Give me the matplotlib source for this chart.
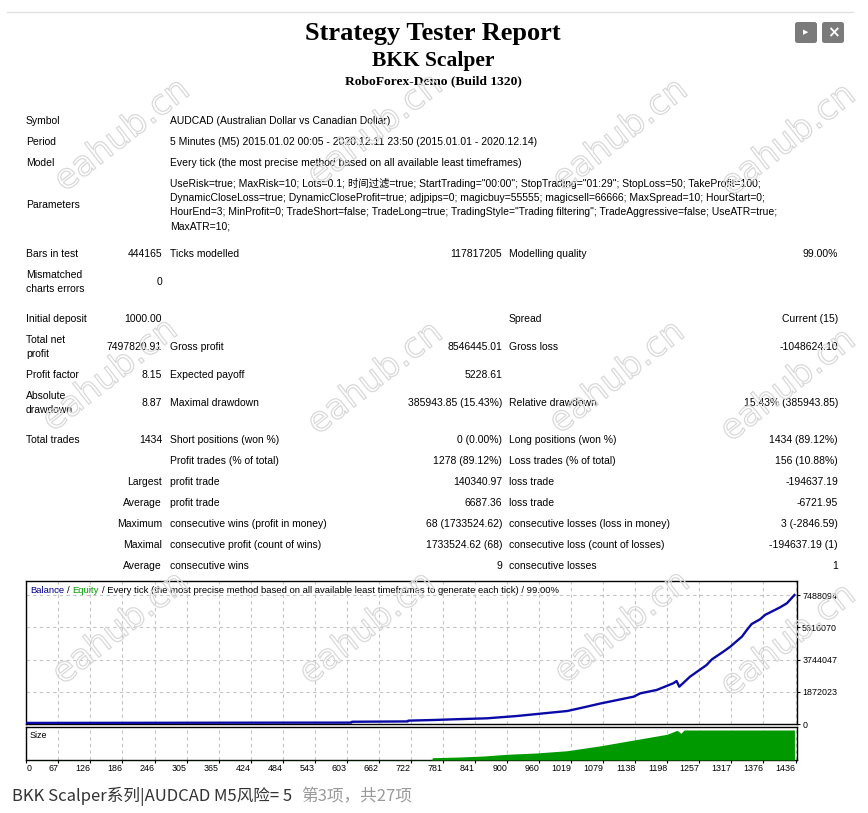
import matplotlib
matplotlib.use('Agg')
import matplotlib.pyplot as plt
import matplotlib.patheffects as pe
from matplotlib.patches import FancyBboxPatch
from matplotlib.lines import Line2D
import numpy as np

plt.rcParams['font.family'] = ['Liberation Sans', 'Noto Sans CJK SC', 'DejaVu Sans']

# ---- report text ----
title = "Strategy Tester Report"
ea_name = "BKK Scalper"
server = "RoboForex-Demo (Build 1320)"

info_rows = [
    ("Symbol", "AUDCAD (Australian Dollar vs Canadian Dollar)"),
    ("Period", "5 Minutes (M5) 2015.01.02 00:05 - 2020.12.11 23:50 (2015.01.01 - 2020.12.14)"),
    ("Model", "Every tick (the most precise method based on all available least timeframes)"),
]
param_lines = [
    'UseRisk=true; MaxRisk=10; Lots=0.1; 时间过滤=true; StartTrading="00:00"; StopTrading="01:29"; StopLoss=50; TakeProfit=100;',
    'DynamicCloseLoss=true; DynamicCloseProfit=true; adjpips=0; magicbuy=55555; magicsell=66666; MaxSpread=10; HourStart=0;',
    'HourEnd=3; MinProfit=0; TradeShort=false; TradeLong=true; TradingStyle="Trading filtering"; TradeAggressive=false; UseATR=true;',
    'MaxATR=10;',
]
stat_rows = [
    ("Bars in test", "444165", "Ticks modelled", "117817205", "Modelling quality", "99.00%"),
    ("Mismatched\ncharts errors", "0", "", "", "", ""),
    ("Initial deposit", "1000.00", "", "", "Spread", "Current (15)"),
    ("Total net\nprofit", "7497820.91", "Gross profit", "8546445.01", "Gross loss", "-1048624.10"),
    ("Profit factor", "8.15", "Expected payoff", "5228.61", "", ""),
    ("Absolute\ndrawdown", "8.87", "Maximal drawdown", "385943.85 (15.43%)", "Relative drawdown", "15.43% (385943.85)"),
    ("Total trades", "1434", "Short positions (won %)", "0 (0.00%)", "Long positions (won %)", "1434 (89.12%)"),
    ("", "", "Profit trades (% of total)", "1278 (89.12%)", "Loss trades (% of total)", "156 (10.88%)"),
    ("", "Largest", "profit trade", "140340.97", "loss trade", "-194637.19"),
    ("", "Average", "profit trade", "6687.36", "loss trade", "-6721.95"),
    ("", "Maximum", "consecutive wins (profit in money)", "68 (1733524.62)", "consecutive losses (loss in money)", "3 (-2846.59)"),
    ("", "Maximal", "consecutive profit (count of wins)", "1733524.62 (68)", "consecutive loss (count of losses)", "-194637.19 (1)"),
    ("", "Average", "consecutive wins", "9", "consecutive losses", "1"),
]

# ---- chart data ----
bal_trades = [0, 120, 240, 360, 480, 607, 608, 712, 713, 761, 798, 860, 916, 948,
              1010, 1041, 1073, 1134, 1146, 1177, 1208, 1214, 1219, 1227, 1239, 1270,
              1280, 1301, 1314, 1336, 1345, 1354, 1370, 1379, 1395, 1407, 1420, 1434]
balance = [62000, 66000, 70000, 74000, 78000, 80000, 130000, 150000, 195000, 233000,
           273000, 331000, 465000, 564000, 756000, 971000, 1200000, 1590000, 1780000,
           1980000, 2370000, 2500000, 2170000, 2400000, 2750000, 3430000, 3760000,
           4200000, 4490000, 5080000, 5460000, 5810000, 6090000, 6340000, 6590000,
           6780000, 7020000, 7498821]

size_trades = [0, 608, 713, 757, 758, 810, 855, 897, 953, 1010, 1073, 1134, 1196, 1215, 1222, 1228, 1434]
size_lots = [0.1, 0.2, 0.3, 0.4, 3.8, 5.0, 6.7, 9.5, 11.7, 15.5, 23.8, 33.3, 42.8, 49.5, 44.5, 50.0, 50.0]

x_labels = ["0", "67", "126", "186", "246", "305", "365", "424", "484", "543", "603", "662",
            "722", "781", "841", "900", "960", "1019", "1079", "1138", "1198", "1257", "1317",
            "1376", "1436"]
y_values = [0, 1872023, 3744047, 5616070, 7488094]
legend_text = "/ Every tick (the most precise method based on all available least timeframes to generate each tick) / 99.00%"

caption_main = "BKK Scalper系列|AUDCAD M5风险= 5"
caption_page = "第3项，共27项"

# ---- figure ----
W, H = 868, 813
fig = plt.figure(figsize=(W / 100, H / 100), dpi=100)
fig.patch.set_facecolor('white')


def fx(x):
    return x / W


def fy(y):
    return 1 - y / H


def put(x, y, s, **kw):
    kw.setdefault('va', 'baseline')
    return fig.text(fx(x), fy(y), s, **kw)


def put_run(x, y, parts, gap, **kw):
    r = fig.canvas.get_renderer()
    for s, c in parts:
        t = put(x, y, s, color=c, **kw)
        x += t.get_window_extent(renderer=r).width + gap


# top rule and buttons
fig.add_artist(Line2D([fx(7), fx(853)], [fy(12), fy(12)], color='#e2e2e2', lw=1))
for bx, glyph, gs in [(795, '▶', 5), (822, '×', 11)]:
    fig.add_artist(FancyBboxPatch((fx(bx), fy(43)), 22 / W, 21 / H,
                                  boxstyle='round,pad=0,rounding_size=0.003',
                                  transform=fig.transFigure, color='#7b7b7b', lw=0))
    fig.text(fx(bx + 11), fy(32.5), glyph, color='white', fontsize=gs,
             ha='center', va='center', family=['DejaVu Sans'], weight='bold')

# headers
serif = ['Liberation Serif', 'DejaVu Serif']
put(433, 40, title, ha='center', family=serif, weight='bold', fontsize=19)
put(433, 66, ea_name, ha='center', family=serif, weight='bold', fontsize=15.5)
put(433, 84, server, ha='center', family=serif, weight='bold', fontsize=9.7)

# table
fs = 7.5
col_x = [26, 162, 170, 502, 509, 838]
col_ha = ['left', 'right', 'left', 'right', 'left', 'right']
base = 3.8

for (lab, val), y in zip(info_rows, [120, 141, 162]):
    put(col_x[0], y + base, lab, fontsize=fs)
    put(col_x[2], y + base, val, fontsize=fs)
put(col_x[0], 204 + base, "Parameters", fontsize=fs)
for i, line in enumerate(param_lines):
    put(col_x[2], 183.3 + 14 * i + base, line, fontsize=fs)

row_y = [253, 281, 318, 346, 374, 402, 439, 460, 481, 502, 523, 544, 565]
for row, y in zip(stat_rows, row_y):
    for j, cell in enumerate(row):
        if not cell:
            continue
        lines = cell.split('\n')
        if len(lines) == 2:
            put(col_x[j], y - 7 + base, lines[0], fontsize=fs, ha=col_ha[j])
            put(col_x[j], y + 7 + base, lines[1], fontsize=fs, ha=col_ha[j])
        else:
            put(col_x[j], y + base, cell, fontsize=fs, ha=col_ha[j])

# ---- charts ----
left, right = 26.3, 797
n_last = 1436
x_pos = np.arange(len(x_labels)) * n_last / (len(x_labels) - 1)
x_max = n_last * (right - left) / (795.5 - left)
y_top = y_values[-1] * 143 / 128.8
grid_kw = dict(color='#c4c4c4', lw=0.8, ls=(0, (3, 3)))
cfs = 6.4

ax = fig.add_axes([fx(left), fy(724), (right - left) / W, (724 - 581) / H])
ax.plot(bal_trades, balance, color='#0a0aa6', lw=1.7, solid_joinstyle='round', zorder=3)
ax.set_xlim(0, x_max)
ax.set_ylim(0, y_top)
ax.set_xticks(x_pos)
ax.tick_params(axis='x', length=0, labelbottom=False)
ax.yaxis.tick_right()
ax.set_yticks(y_values, [str(v) for v in y_values], fontsize=cfs)
ax.tick_params(axis='y', direction='out', length=2.2, pad=1.5, width=0.8)
ax.grid(True, **grid_kw)
for s in ax.spines.values():
    s.set_color('black')
    s.set_linewidth(1)

put_run(30, 593, [("Balance", '#00008b'), ("/", 'black'), ("Equity", '#00a000'),
                  (legend_text, 'black')], gap=2.8, fontsize=6.8)

axs = fig.add_axes([fx(left), fy(760), (right - left) / W, (760 - 726.5) / H])
axs.fill_between(size_trades, size_lots, color='#009900', lw=0, zorder=3)
axs.set_xlim(0, x_max)
axs.set_ylim(0, max(size_lots) * 33.5 / 30)
axs.set_yticks([])
axs.set_xticks(x_pos, x_labels, fontsize=cfs)
axs.tick_params(axis='x', direction='out', length=2.2, pad=1, width=0.8)
axs.xaxis.grid(True, **grid_kw)
for lab in axs.get_xticklabels():
    lab.set_ha('right')
axs.get_xticklabels()[0].set_ha('left')
for s in axs.spines.values():
    s.set_color('black')
    s.set_linewidth(1)
put(30, 738, "Size", fontsize=cfs)

# watermark
wm_spots = [(122, 135), (375, 130), (620, 135), (788, 140),
            (110, 375), (375, 378), (617, 377), (788, 385),
            (120, 628), (367, 628), (622, 627), (788, 640)]
for wx, wy in wm_spots:
    fig.text(fx(wx), fy(wy), "eahub.cn", rotation=38, ha='center', va='center',
             fontsize=25, color='none', family=['DejaVu Sans'], zorder=10,
             path_effects=[pe.withStroke(linewidth=0.9, foreground='#d9d9d9')])

# caption
cjk = ['Noto Sans CJK SC', 'DejaVu Sans']
put(12, 801, caption_main, fontsize=12, color='#333333', family=cjk)
put(301, 801, caption_page, fontsize=12, color='#9a9a9a', family=cjk, style='italic')

fig.savefig('out.png', dpi=100, facecolor='white')
